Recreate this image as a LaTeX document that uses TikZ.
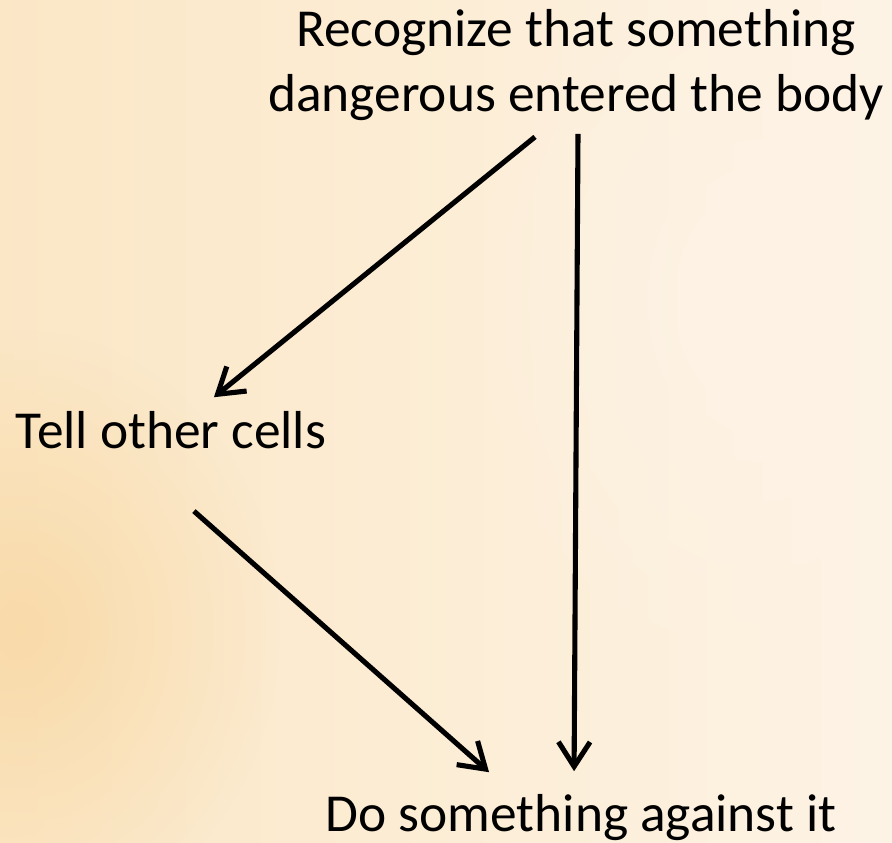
\documentclass[tikz,border=0pt]{standalone}
\usepackage{fontspec}
\setmainfont{Carlito}
\usetikzlibrary{arrows.meta,calc,fadings}
\definecolor{Cream}{RGB}{253,243,229}
\definecolor{LightPeach}{RGB}{251,231,198}
\definecolor{Peach}{RGB}{249,216,164}
\tikzfading[name=softglow,inner color=transparent!0,outer color=transparent!100]
\tikzset{
  txt/.style={inner sep=0pt,font=\fontsize{15.2}{18.3}\selectfont},
  arr/.style={-{Straight Barb[length=7pt,width=9pt]},line width=1.45pt,black}
}
\begin{document}
\begin{tikzpicture}
% background
\useasboundingbox (0,0) rectangle (8.92,-8.42);
\shade[left color=LightPeach,right color=Cream] (0,0) rectangle (8.92,-8.42);
\fill[Peach,path fading=softglow,opacity=.85] (0.2,-6.3) ellipse (2.6 and 3);
\fill[Cream,path fading=softglow] (7.6,-3) ellipse (3 and 4);
% texts
\node[txt,align=center,anchor=base] (recog) at (5.76,-1.11) {Recognize that something\\dangerous entered the body};
\node[txt,anchor=base west] (tell) at (0.15,-4.48) {Tell other cells};
\node[txt,anchor=base west] (act) at (3.25,-8.31) {Do something against it};
% arrows
\draw[arr] ([shift={(-0.41,-0.16)}]recog.south) -- ([shift={(0.43,0.13)}]tell.north);
\draw[arr] ([shift={(0.02,-0.13)}]recog.south) -- ([shift={(-0.07,0.22)}]act.north);
\draw[arr] ([shift={(0.23,-0.62)}]tell.south) -- ([shift={(-0.92,0.21)}]act.north);
\end{tikzpicture}
\end{document}
